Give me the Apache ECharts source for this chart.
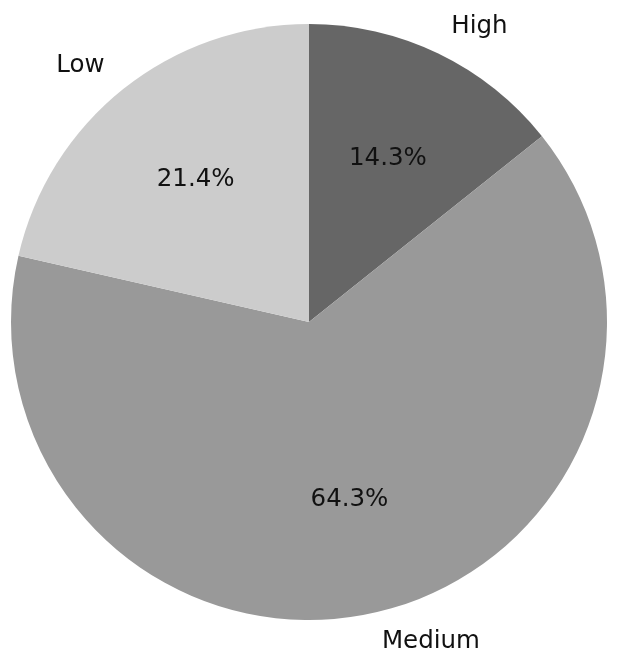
<!DOCTYPE html>
<html>
<head>
<meta charset="utf-8">
<script src="https://cdn.jsdelivr.net/npm/echarts@6/dist/echarts.min.js"></script>
<style>
  html, body { margin: 0; padding: 0; background: #fff; }
  #main { width: 624px; height: 669px; }
</style>
</head>
<body>
<div id="main"></div>
<script>
// 数据
var categories = ['High', 'Medium', 'Low'];
var counts = [2, 9, 3];
var colors = ['#666666', '#999999', '#cccccc'];

window.onload = function () {
    var myChart = echarts.init(document.getElementById('main'));
    var R = 298;

    var data = categories.map(function (c, i) {
        return { name: c, value: counts[i], itemStyle: { color: colors[i] } };
    });

    var option = {
        animation: false,
        textStyle: { fontFamily: 'DejaVu Sans' },
        series: [{
            // 扇区 + 外部标签
            type: 'pie',
            center: [309, 322],
            radius: [0, R],
            startAngle: 90,
            clockwise: true,
            avoidLabelOverlap: false,
            data: data,
            itemStyle: { borderWidth: 0 },
            label: {
                show: true,
                position: 'outside',
                formatter: '{b}',
                fontSize: 24.5,
                color: '#111',
                fontFamily: 'DejaVu Sans',
                distanceToLabelLine: 0
            },
            labelLine: { show: false, length: R * 0.1, length2: 0 },
            emphasis: { disabled: true }
        }, {
            // 百分比标签 (0.6r 处)
            type: 'pie',
            center: [309, 322],
            radius: [R * 0.2, R],
            startAngle: 90,
            clockwise: true,
            silent: true,
            data: data.map(function (d) {
                return { name: d.name, value: d.value, itemStyle: { color: 'transparent' } };
            }),
            label: {
                show: true,
                position: 'inside',
                formatter: function (p) { return p.percent.toFixed(1) + '%'; },
                fontSize: 24.5,
                color: '#111',
                fontFamily: 'DejaVu Sans'
            },
            labelLine: { show: false },
            emphasis: { disabled: true }
        }]
    };

    myChart.setOption(option);
};
</script>
</body>
</html>
